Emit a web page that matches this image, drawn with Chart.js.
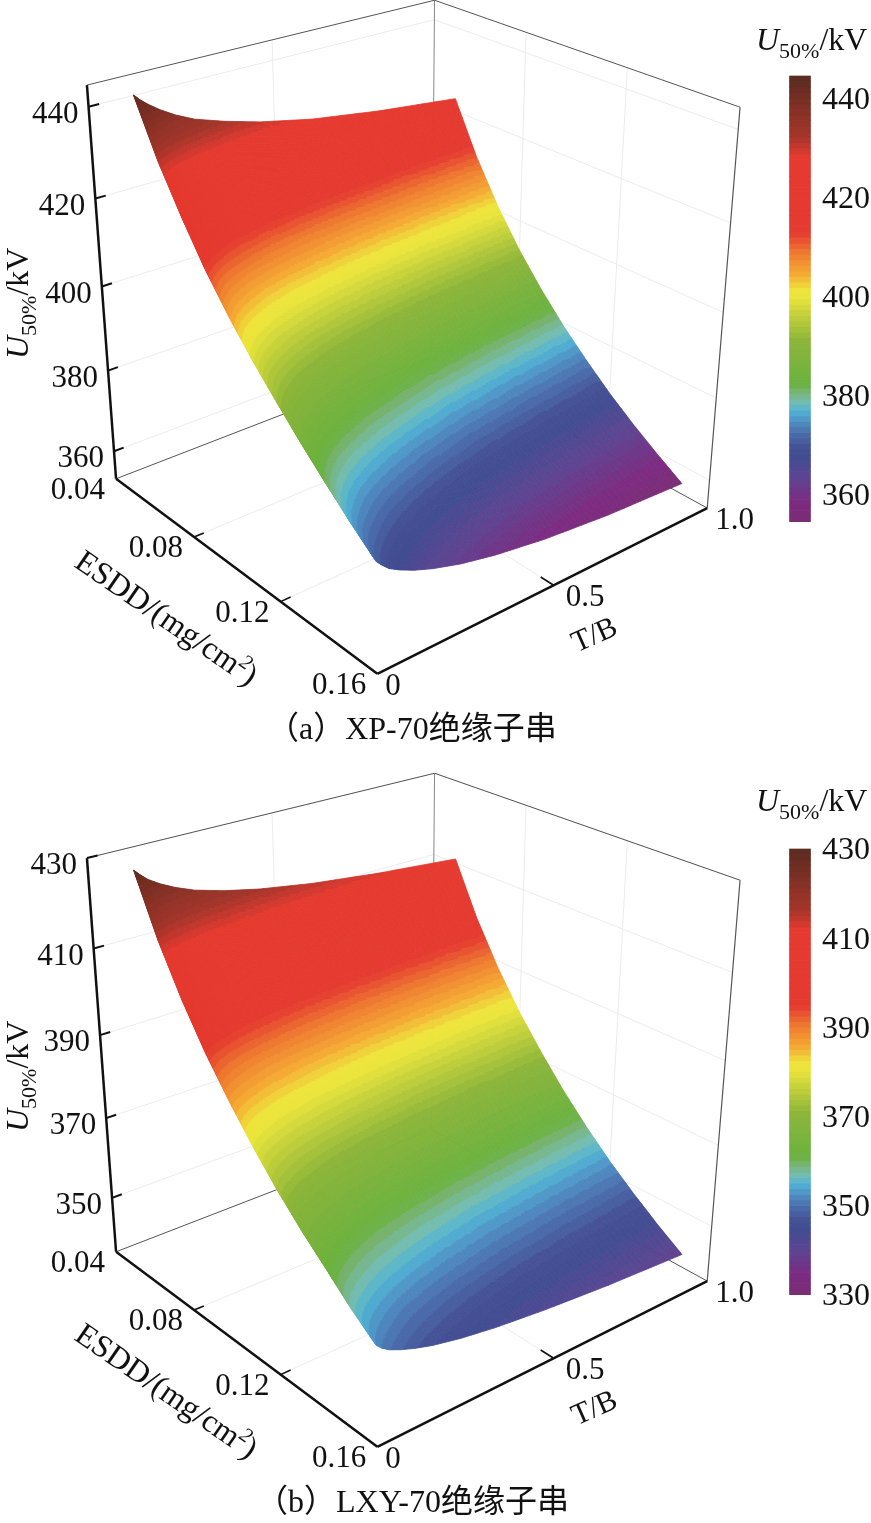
<!DOCTYPE html>
<html>
<head>
<meta charset="utf-8">
<style>
  html, body { margin: 0; padding: 0; background: #fff; }
  canvas { display: block; }
</style>
<script src="https://cdn.jsdelivr.net/npm/chart.js@4/dist/chart.umd.min.js"></script>
</head>
<body>
<canvas id="chartA" width="871" height="773"></canvas>
<canvas id="chartB" width="871" height="750"></canvas>
<script>
const esddValues = [0.05, 0.06, 0.07, 0.08, 0.09, 0.10, 0.11, 0.12, 0.13, 0.14, 0.15]
const tbValues = [0.065, 0.08, 0.10, 0.13, 0.17, 0.22, 0.30, 0.40, 0.55, 0.75, 1.0]

// U50% (kV), one row per ESDD value
const xpValues = [
  [443.3, 442.0, 440.6, 438.8, 436.8, 434.8, 432.6, 430.3, 427.7, 425.3, 423.0],
  [431.6, 430.1, 428.4, 426.5, 424.5, 422.5, 420.3, 418.1, 415.6, 413.2, 411.0],
  [421.9, 420.5, 418.7, 416.7, 414.6, 412.6, 410.2, 408.0, 405.5, 403.3, 401.1],
  [413.1, 411.7, 410.0, 408.0, 406.0, 403.9, 401.6, 399.5, 397.1, 394.8, 392.7],
  [405.6, 404.2, 402.4, 400.5, 398.5, 396.5, 394.2, 392.1, 389.8, 387.6, 385.5],
  [398.9, 397.5, 395.8, 393.9, 392.0, 390.0, 387.7, 385.7, 383.3, 381.2, 379.1],
  [392.9, 391.6, 389.9, 388.0, 386.1, 384.2, 381.9, 379.9, 377.6, 375.5, 373.5],
  [387.1, 385.7, 384.0, 382.2, 380.3, 378.5, 376.4, 374.4, 372.2, 370.3, 368.3],
  [381.7, 380.4, 378.7, 376.9, 375.0, 373.3, 371.3, 369.4, 367.3, 365.4, 363.7],
  [376.5, 375.1, 373.5, 371.9, 370.2, 368.5, 366.5, 364.7, 362.7, 361.0, 359.5],
  [371.7, 370.3, 368.7, 367.2, 365.6, 364.0, 362.0, 360.2, 358.3, 356.7, 355.6]
]
const lxyValues = [
  [428.2, 426.9, 425.4, 423.8, 422.1, 420.4, 418.5, 416.7, 414.7, 412.8, 411.0],
  [415.1, 413.8, 412.4, 410.8, 409.2, 407.5, 405.7, 404.0, 402.0, 400.2, 398.5],
  [404.4, 403.2, 401.7, 400.2, 398.6, 397.0, 395.3, 393.6, 391.7, 389.9, 388.2],
  [395.2, 394.0, 392.6, 391.1, 389.6, 388.0, 386.3, 384.6, 382.8, 381.0, 379.4],
  [387.3, 386.1, 384.8, 383.3, 381.8, 380.3, 378.6, 376.9, 375.1, 373.4, 371.8],
  [380.1, 378.9, 377.5, 376.1, 374.6, 373.1, 371.4, 369.9, 368.1, 366.4, 364.8],
  [373.6, 372.4, 371.1, 369.7, 368.2, 366.8, 365.1, 363.6, 361.8, 360.2, 358.6],
  [367.8, 366.6, 365.3, 364.0, 362.5, 361.1, 359.4, 357.9, 356.2, 354.6, 353.0],
  [362.6, 361.4, 360.1, 358.8, 357.3, 355.9, 354.3, 352.8, 351.1, 349.5, 348.0],
  [357.3, 356.2, 354.9, 353.6, 352.2, 350.8, 349.3, 347.8, 346.2, 344.8, 343.4],
  [352.7, 351.4, 350.2, 349.0, 347.7, 346.4, 344.9, 343.5, 342.0, 340.5, 339.2]
]

const esddTicks = [0.04, 0.08, 0.12, 0.16]
const tbTicks = [0, 0.5, 1.0]
const xpTicks = [440, 420, 400, 380, 360]
const lxyTicks = [430, 410, 390, 370, 350]
const lxyBarTicks = [430, 410, 390, 370, 350, 330]

const SERIF = '"Liberation Serif", "Noto Sans CJK SC"'
const LEVELS = 80
const colorStops = [
  [0, "#7a2e72"], [0.042, "#7d2a80"], [0.1, "#5d4592"], [0.144, "#414c92"],
  [0.165, "#444f93"], [0.2, "#4b6fae"], [0.228, "#4f93c6"], [0.25, "#52b4d4"],
  [0.27, "#76bcae"], [0.293, "#76b36e"], [0.31, "#6bb23f"],
  [0.407, "#8db53a"], [0.504, "#eae43c"], [0.52, "#eee43c"], [0.557, "#f5a934"],
  [0.604, "#ee7a30"], [0.649, "#e53a30"], [0.819, "#e53a30"], [0.864, "#a5352a"],
  [1, "#5a2a20"]
]

// corners of the axes box on screen, used to calibrate the camera
const boxCorners = [
  [[0, 0, 0], [115.7, 479.3]], [[1, 0, 0], [377.7, 673.3]], [[1, 1, 0], [706.7, 509]],
  [[0, 1, 0], [432, 356]], [[0, 0, 1], [87, 85]], [[0, 1, 1], [434.3, 0.7]],
  [[1, 1, 1], [740.3, 106.7]]
]

function solve(M, b) {
  const n = b.length
  for (let i = 0; i < n; i++) {
    let p = i
    for (let r = i + 1; r < n; r++) if (Math.abs(M[r][i]) > Math.abs(M[p][i])) p = r
    ;[M[i], M[p]] = [M[p], M[i]]
    ;[b[i], b[p]] = [b[p], b[i]]
    for (let r = i + 1; r < n; r++) {
      const f = M[r][i] / M[i][i]
      for (let c = i; c < n; c++) M[r][c] -= f * M[i][c]
      b[r] -= f * b[i]
    }
  }
  const x = new Array(n)
  for (let i = n - 1; i >= 0; i--) {
    let s = b[i]
    for (let c = i + 1; c < n; c++) s -= M[i][c] * x[c]
    x[i] = s / M[i][i]
  }
  return x
}

function fitCamera() {
  const rows = [], rhs = []
  boxCorners.forEach(([[a, c, w], [px, py]]) => {
    const u = px / 1000, v = py / 1000
    rows.push([a, c, w, 1, 0, 0, 0, 0, -u * a, -u * c, -u * w]); rhs.push(u)
    rows.push([0, 0, 0, 0, a, c, w, 1, -v * a, -v * c, -v * w]); rhs.push(v)
  })
  const N = Array.from({ length: 11 }, () => new Array(11).fill(0))
  const y = new Array(11).fill(0)
  rows.forEach((r, k) => {
    for (let i = 0; i < 11; i++) {
      y[i] += r[i] * rhs[k]
      for (let j = 0; j < 11; j++) N[i][j] += r[i] * r[j]
    }
  })
  return solve(N, y)
}
const cam = fitCamera()

const palette = Array.from({ length: LEVELS }, (_, l) => {
  const q = (l + 0.5) / LEVELS
  let k = 0
  while (k < colorStops.length - 2 && colorStops[k + 1][0] < q) k++
  const [s0, c0] = colorStops[k], [s1, c1] = colorStops[k + 1]
  const f = (q - s0) / (s1 - s0)
  const ch = (c, i) => parseInt(c.substr(1 + i * 2, 2), 16)
  const mix = i => Math.round(ch(c0, i) + (ch(c1, i) - ch(c0, i)) * f)
  return `rgb(${mix(0)},${mix(1)},${mix(2)})`
})
const colorFor = s => palette[Math.min(LEVELS - 1, Math.max(0, Math.floor(s * LEVELS)))]

function makePanel(canvasId, cfg) {
  const { zMin, zMax, values, ticks, barTicks, barMin, barMax } = cfg
  const H = document.getElementById(canvasId).height

  const project = (esdd, tb, z) => {
    const a = (esdd - 0.04) / 0.12, c = tb, w = (z - zMin) / (zMax - zMin)
    const d = cam[8] * a + cam[9] * c + cam[10] * w + 1
    return {
      x: 1000 * (cam[0] * a + cam[1] * c + cam[2] * w + cam[3]) / d,
      y: 1000 * (cam[4] * a + cam[5] * c + cam[6] * w + cam[7]) / d
    }
  }
  const segment = (p, q, color, width, order) => ({
    type: "scatter", showLine: true, data: [p, q], borderColor: color, borderWidth: width,
    pointRadius: 0, order, xAxisID: "x", yAxisID: "y"
  })

  const E0 = 0.04, E1 = 0.16
  const datasets = []
  const GRID = "#ececec"

  // back walls and floor grid
  ticks.forEach(z => {
    datasets.push(segment(project(E0, 0, z), project(E0, 1, z), GRID, 1, 5))
    datasets.push(segment(project(E0, 1, z), project(E1, 1, z), GRID, 1, 5))
  })
  esddTicks.slice(1, 3).forEach(e => {
    datasets.push(segment(project(e, 0, zMin), project(e, 1, zMin), GRID, 1, 5))
    datasets.push(segment(project(e, 1, zMin), project(e, 1, zMax), GRID, 1, 5))
  })
  datasets.push(segment(project(E0, 0.5, zMin), project(E1, 0.5, zMin), GRID, 1, 5))
  datasets.push(segment(project(E0, 0.5, zMin), project(E0, 0.5, zMax), GRID, 1, 5))

  // thin box edges
  const EDGE = "#555555"
  datasets.push(segment(project(E0, 0, zMax), project(E0, 1, zMax), EDGE, 1, 4))
  datasets.push(segment(project(E0, 1, zMax), project(E1, 1, zMax), EDGE, 1, 4))
  datasets.push(segment(project(E1, 1, zMax), project(E1, 1, zMin), EDGE, 1.2, 4))
  datasets.push(segment(project(E0, 1, zMax), project(E0, 1, zMin), "#888888", 1, 4))
  datasets.push(segment(project(E0, 0, zMin), project(E0, 1, zMin), EDGE, 1, 4))
  datasets.push(segment(project(E0, 1, zMin), project(E1, 1, zMin), EDGE, 1, 4))

  // the surface itself: grid nodes here, painted by the plugin below
  datasets.push({
    type: "scatter", label: "surface", order: 3, pointRadius: 0, xAxisID: "x", yAxisID: "y",
    data: esddValues.flatMap((e, i) => tbValues.map((t, j) => project(e, t, values[i][j])))
  })

  // front axes and ticks
  const AXIS = "#111111"
  datasets.push(segment(project(E0, 0, zMin), project(E0, 0, zMax), AXIS, 2.5, 1))
  datasets.push(segment(project(E0, 0, zMin), project(E1, 0, zMin), AXIS, 2.5, 1))
  datasets.push(segment(project(E1, 0, zMin), project(E1, 1, zMin), AXIS, 2.5, 1))
  ticks.forEach(z => datasets.push(segment(project(E0, 0, z), project(E0, 0.027, z), AXIS, 2, 1)))
  esddTicks.slice(1, 3).forEach(e => datasets.push(segment(project(e, 0, zMin), project(e, 0.027, zMin), AXIS, 1.6, 1)))
  datasets.push(segment(project(E1, 0.5, zMin), project(E1 - 0.005, 0.5, zMin), AXIS, 1.6, 1))

  // colour bar, one floating bar per level
  const step = (barMax - barMin) / LEVELS
  datasets.push({
    type: "bar", order: 2, xAxisID: "x", yAxisID: "yBar", barThickness: 21, grouped: false,
    data: Array.from({ length: LEVELS }, (_, k) => ({ x: 800, y: [barMin + k * step, barMin + (k + 1) * step] })),
    backgroundColor: palette
  })

  const BAR_TOP = 76, BAR_PX = 445.7
  const ppu = BAR_PX / (barMax - barMin)
  const yBarMax = barMax + BAR_TOP / ppu

  const unitLabel = (ctx, x, y) => {
    ctx.textAlign = "left"
    ctx.textBaseline = "alphabetic"
    ctx.font = `italic 32px ${SERIF}`
    ctx.fillText("U", x, y)
    let cx = x + ctx.measureText("U").width
    ctx.font = `22px ${SERIF}`
    ctx.fillText("50%", cx, y + 8)
    cx += ctx.measureText("50%").width
    ctx.font = `32px ${SERIF}`
    ctx.fillText("/kV", cx, y)
  }

  const surfacePlugin = {
    id: "surface3d",
    afterDatasetDraw(chart, args) {
      if (chart.data.datasets[args.index].label !== "surface") return
      const { ctx, scales } = chart
      const SUB_E = 30, SUB_T = 14
      const pt = (e, t, z) => {
        const p = project(e, t, z)
        return [scales.x.getPixelForValue(p.x), scales.y.getPixelForValue(p.y)]
      }
      ctx.save()
      ctx.lineWidth = 0.8
      ctx.lineJoin = "round"
      for (let i = 0; i < esddValues.length - 1; i++) {
        for (let j = 0; j < tbValues.length - 1; j++) {
          const [z00, z01, z10, z11] = [values[i][j], values[i][j + 1], values[i + 1][j], values[i + 1][j + 1]]
          const de = esddValues[i + 1] - esddValues[i], dt = tbValues[j + 1] - tbValues[j]
          const Z = (a, b) => z00 * (1 - a) * (1 - b) + z01 * (1 - a) * b + z10 * a * (1 - b) + z11 * a * b
          const P = (a, b) => pt(esddValues[i] + a * de, tbValues[j] + b * dt, Z(a, b))
          for (let m = 0; m < SUB_E; m++) {
            for (let n = 0; n < SUB_T; n++) {
              const a0 = m / SUB_E, a1 = (m + 1) / SUB_E, b0 = n / SUB_T, b1 = (n + 1) / SUB_T
              const s = (Z((a0 + a1) / 2, (b0 + b1) / 2) - barMin) / (barMax - barMin)
              const p1 = P(a0, b0), p2 = P(a0, b1), p3 = P(a1, b1), p4 = P(a1, b0)
              ctx.fillStyle = ctx.strokeStyle = colorFor(s)
              ctx.beginPath()
              ctx.moveTo(p1[0], p1[1]); ctx.lineTo(p2[0], p2[1]); ctx.lineTo(p3[0], p3[1]); ctx.lineTo(p4[0], p4[1])
              ctx.closePath()
              ctx.fill()
              ctx.stroke()
            }
          }
        }
      }
      ctx.restore()
    }
  }

  const labelPlugin = {
    id: "panelLabels",
    afterDraw(chart) {
      const { ctx, scales } = chart
      const px = p => [scales.x.getPixelForValue(p.x), scales.y.getPixelForValue(p.y)]
      ctx.save()
      ctx.fillStyle = "#111111"
      ctx.textBaseline = "middle"
      ctx.font = `31px ${SERIF}`

      ctx.textAlign = "right"
      ticks.forEach(z => {
        const [x, y] = px(project(E0, 0, z))
        ctx.fillText(String(z), x - 10, y + 8)
      })
      esddTicks.forEach(e => {
        const [x, y] = px(project(e, 0, zMin))
        ctx.fillText(e.toFixed(2), x - 11, y + 12)
      })
      ctx.textAlign = "left"
      tbTicks.forEach(t => {
        const [x, y] = px(project(E1, t, zMin))
        ctx.fillText(t === 0 ? "0" : t.toFixed(1), x + (t === 0.5 ? 12 : 8), y + 13)
      })
      ctx.font = `32px ${SERIF}`
      barTicks.forEach(v => {
        ctx.fillText(String(v), 822, scales.yBar.getPixelForValue(v) + 2)
      })

      // colour bar title
      unitLabel(ctx, 756, cfg.barTitleY)

      // z axis title
      ctx.save()
      ctx.translate(28, 359)
      ctx.rotate(-Math.PI / 2)
      unitLabel(ctx, 0, 0)
      ctx.restore()

      // ESDD title
      ctx.save()
      ctx.translate(73, 566)
      ctx.rotate(34.5 * Math.PI / 180)
      ctx.textAlign = "left"
      ctx.textBaseline = "alphabetic"
      ctx.font = `32px ${SERIF}`
      ctx.fillText("ESDD/(mg/cm", 0, 0)
      let w = ctx.measureText("ESDD/(mg/cm").width
      ctx.font = `italic 21px ${SERIF}`
      ctx.fillText("2", w, -12)
      w += ctx.measureText("2").width
      ctx.font = `32px ${SERIF}`
      ctx.fillText(")", w, 0)
      ctx.restore()

      // T/B title
      ctx.save()
      ctx.translate(598, 643)
      ctx.rotate(-24 * Math.PI / 180)
      ctx.textAlign = "center"
      ctx.font = `30px ${SERIF}`
      ctx.fillText("T/B", 0, 0)
      ctx.restore()

      // caption
      ctx.textAlign = "left"
      ctx.font = `32px ${SERIF}`
      ctx.fillText(cfg.caption, cfg.captionX, 739)
      ctx.restore()
    }
  }

  return new Chart(document.getElementById(canvasId), {
    type: "scatter",
    data: { datasets },
    options: {
      responsive: false,
      animation: false,
      devicePixelRatio: 1,
      layout: { padding: 0 },
      plugins: { legend: { display: false }, tooltip: { enabled: false } },
      scales: {
        x: { type: "linear", display: false, min: 0, max: 871, offset: false },
        y: { type: "linear", display: false, min: 0, max: H, reverse: true },
        yBar: { type: "linear", display: false, min: yBarMax - H / ppu, max: yBarMax }
      }
    },
    plugins: [surfacePlugin, labelPlugin]
  })
}

makePanel("chartA", {
  zMin: 353, zMax: 444.6, values: xpValues, ticks: xpTicks, barTicks: xpTicks,
  barMin: 354.6, barMax: 444.6, barTitleY: 50,
  caption: "（a）XP-70绝缘子串", captionX: 267
})
makePanel("chartB", {
  zMin: 336, zMax: 430, values: lxyValues, ticks: lxyTicks, barTicks: lxyBarTicks,
  barMin: 330, barMax: 430, barTitleY: 38,
  caption: "（b）LXY-70绝缘子串", captionX: 256
})
</script>
</body>
</html>
